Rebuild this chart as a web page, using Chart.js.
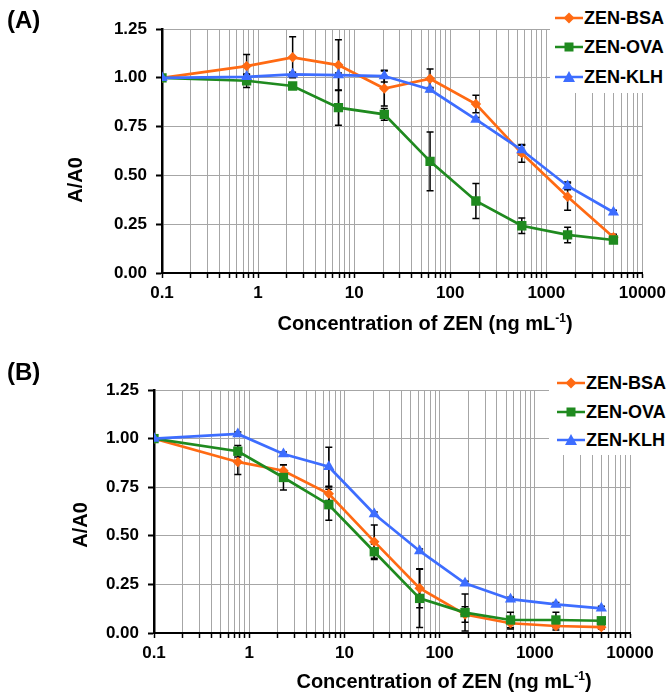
<!DOCTYPE html>
<html>
<head>
<meta charset="utf-8">
<script src="https://cdn.jsdelivr.net/npm/chart.js@4.4.1/dist/chart.umd.min.js"></script>
<style>
  body { margin: 0; background: #fff; }
  #wrap { position: relative; width: 671px; height: 693px; background: #fff; overflow: hidden;
          font-family: 'Liberation Sans', Arial, sans-serif; font-weight: bold; color: #000; }
  canvas { position: absolute; left: 0; }
  .panel { position: absolute; left: 7px; font-size: 24px; line-height: 1; }
  .xtitle { position: absolute; font-size: 20px; white-space: nowrap; transform: translate(-50%, -50%); }
  .xtitle sup { font-size: 12px; vertical-align: 8px; line-height: 0; }
  .ytitle { position: absolute; font-size: 20px; white-space: nowrap; transform: translate(-50%, -50%) rotate(-90deg); }
  .legend { position: absolute; background: #fff; }
  .item { position: absolute; left: 0; height: 20px; display: flex; align-items: center; font-size: 18px; white-space: nowrap; }
  .item svg { margin-right: 1px; }
</style>
</head>
<body>
<div id="wrap">
  <canvas id="chartA" width="671" height="345" style="top:0"></canvas>
  <canvas id="chartB" width="671" height="348" style="top:345px"></canvas>
  <div class="panel" style="top:8px">(A)</div>
  <div class="panel" style="top:360px">(B)</div>
  <div class="ytitle" style="left:75px; top:180px">A/A0</div>
  <div class="ytitle" style="left:80px; top:525px">A/A0</div>
  <div class="xtitle" style="left:425px; top:323px">Concentration of ZEN (ng mL<sup>-1</sup>)</div>
  <div class="xtitle" style="left:444px; top:681px">Concentration of ZEN (ng mL<sup>-1</sup>)</div>
  <div class="legend" id="legA" style="left:550px; top:0; width:121px; height:93px"></div>
  <div class="legend" id="legB" style="left:549px; top:345px; width:122px; height:110px"></div>
</div>
<script>
'use strict';
// concentrations (ng/mL); the blank is plotted at 0.1
let conc = [0.1, 0.76, 2.29, 6.86, 20.6, 61.7, 185, 556, 1667, 5000];
let seriesNames = ['ZEN-BSA', 'ZEN-OVA', 'ZEN-KLH'];
let xTickLabels = ['0.1', '1', '10', '100', '1000', '10000'];
let yTickLabels = ['0.00', '0.25', '0.50', '0.75', '1.00', '1.25'];

// panel (A)
let bsaA = [1.00, 1.06, 1.105, 1.065, 0.945, 0.995, 0.866, 0.613, 0.391, 0.183];
let bsaAErr = [0, 0.06, 0.105, 0.13, 0.09, 0.05, 0.045, 0.045, 0.07, 0.015];
let ovaA = [1.00, 0.985, 0.958, 0.847, 0.813, 0.572, 0.369, 0.242, 0.195, 0.169];
let ovaAErr = [0, 0.035, 0.01, 0.09, 0.03, 0.15, 0.09, 0.04, 0.04, 0.015];
let klhA = [1.00, 1.005, 1.018, 1.014, 1.009, 0.94, 0.787, 0.63, 0.446, 0.311];
let klhAErr = [0, 0.01, 0.01, 0.01, 0.03, 0.01, 0.01, 0.025, 0.02, 0.01];

// panel (B)
let bsaB = [1.00, 0.88, 0.835, 0.716, 0.47, 0.23, 0.095, 0.05, 0.036, 0.03];
let bsaBErr = [0, 0.065, 0.03, 0.035, 0.085, 0.1, 0.04, 0.03, 0.02, 0.01];
let ovaB = [1.00, 0.935, 0.80, 0.66, 0.418, 0.178, 0.105, 0.067, 0.067, 0.063];
let ovaBErr = [0, 0.03, 0.065, 0.08, 0.04, 0.15, 0.095, 0.04, 0.04, 0.01];
let klhB = [1.00, 1.024, 0.921, 0.855, 0.612, 0.422, 0.256, 0.174, 0.147, 0.127];
let klhBErr = [0, 0.01, 0.01, 0.1, 0.01, 0.01, 0.01, 0.01, 0.01, 0.01];

let colors = ['#FF6A13', '#1F8A1F', '#3D6DFF'];
let shapes = ['rectRot', 'rect', 'triangle'];
let radii = [5.2, 6.6, 6.5];
let FONT = "'Liberation Sans', Arial, sans-serif";

// every 1..9 x 10^n between 0.1 and 10000, for the grid
let logTicks = [];
for (let e = -1; e <= 3; e++) {
    for (let m = 1; m <= 9; m++) {
        logTicks.push(+(m * Math.pow(10, e)).toPrecision(2));
    }
}
logTicks.push(10000);

function points(vals) {
    return vals.map((v, i) => ({ x: conc[i], y: v }));
}

function makeDatasets(vals, errs) {
    return vals.map((v, i) => ({
        label: seriesNames[i],
        data: points(v),
        errors: errs[i],
        borderColor: colors[i],
        backgroundColor: colors[i],
        borderWidth: 2.7,
        pointStyle: shapes[i],
        pointRadius: radii[i],
        pointBorderWidth: 0,
        tension: 0,
        order: 2 - i
    }));
}

let errorBars = {
    id: 'errorBars',
    beforeDatasetsDraw(chart) {
        let ctx = chart.ctx;
        let xs = chart.scales.x, ys = chart.scales.y;
        ctx.save();
        ctx.strokeStyle = '#000';
        ctx.lineWidth = 1.5;
        chart.data.datasets.forEach(ds => {
            ds.errors.forEach((e, j) => {
                if (!e) return;
                let x = xs.getPixelForValue(ds.data[j].x);
                let top = ys.getPixelForValue(ds.data[j].y + e);
                let bot = ys.getPixelForValue(ds.data[j].y - e);
                ctx.beginPath();
                ctx.moveTo(x, top); ctx.lineTo(x, bot);
                ctx.moveTo(x - 3.5, top); ctx.lineTo(x + 3.5, top);
                ctx.moveTo(x - 3.5, bot); ctx.lineTo(x + 3.5, bot);
                ctx.stroke();
            });
        });
        ctx.restore();
    }
};

function makeChart(id, datasets, pad, yWidth, xHeight) {
    return new Chart(document.getElementById(id), {
        type: 'line',
        data: { datasets: datasets },
        plugins: [errorBars],
        options: {
            responsive: false,
            animation: false,
            layout: { padding: pad },
            plugins: { legend: { display: false }, tooltip: { enabled: false } },
            scales: {
                x: {
                    type: 'logarithmic',
                    min: 0.1,
                    max: 10000,
                    afterBuildTicks: s => { s.ticks = logTicks.map(v => ({ value: v })); },
                    afterFit: s => { s.height = xHeight; },
                    ticks: {
                        autoSkip: false,
                        maxRotation: 0,
                        padding: 5,
                        color: '#000',
                        font: { family: FONT, size: 17, weight: 'bold' },
                        callback: v => {
                            let lbl = xTickLabels.find(t => Math.abs(+t - v) < 1e-9);
                            return lbl || '';
                        }
                    },
                    grid: { color: '#A6A6A6', lineWidth: 1, tickColor: '#000', tickLength: 5, tickWidth: 1.5 },
                    border: { color: '#000', width: 2 }
                },
                y: {
                    min: 0,
                    max: 1.25,
                    afterFit: s => { s.width = yWidth; },
                    ticks: {
                        stepSize: 0.25,
                        padding: 9,
                        color: '#000',
                        font: { family: FONT, size: 17, weight: 'bold' },
                        callback: v => yTickLabels[Math.round(v / 0.25)]
                    },
                    grid: { color: '#A6A6A6', lineWidth: 1, tickColor: '#000', tickLength: 6, tickWidth: 2 },
                    border: { color: '#000', width: 2.5 }
                }
            }
        }
    });
}

makeChart('chartA', makeDatasets([bsaA, ovaA, klhA], [bsaAErr, ovaAErr, klhAErr]),
    { left: 58, top: 29, right: 28, bottom: 0 }, 104, 72);
makeChart('chartB', makeDatasets([bsaB, ovaB, klhB], [bsaBErr, ovaBErr, klhBErr]),
    { left: 64, top: 45, right: 41, bottom: 0 }, 90, 60);

function markerSvg(i) {
    let c = colors[i];
    let m;
    if (i === 0) m = `<polygon points="14,1.5 19.5,7 14,12.5 8.5,7" fill="${c}"/>`;
    else if (i === 1) m = `<rect x="9.5" y="2.5" width="9" height="9" fill="${c}"/>`;
    else m = `<polygon points="14,1 20,12 8,12" fill="${c}"/>`;
    return `<svg width="28" height="14"><line x1="0" y1="7" x2="28" y2="7" stroke="${c}" stroke-width="2.5"/>${m}</svg>`;
}

function makeLegend(id, lineLeft, tops) {
    let box = document.getElementById(id);
    seriesNames.forEach((name, i) => {
        let item = document.createElement('div');
        item.className = 'item';
        item.style.left = lineLeft + 'px';
        item.style.top = tops[i] + 'px';
        item.innerHTML = markerSvg(i) + '<span>' + name + '</span>';
        box.appendChild(item);
    });
}
makeLegend('legA', 5, [8, 37, 67]);
makeLegend('legB', 8, [28, 57, 85]);
</script>
</body>
</html>
